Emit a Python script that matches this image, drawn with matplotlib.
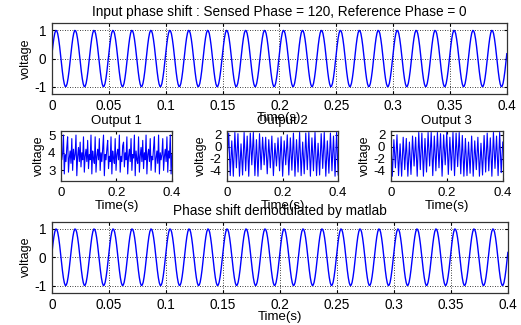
import numpy as np
import matplotlib.pyplot as plt

# one period (1/60 s) of the 60 Hz input, 20 samples
period_values = [0.17, 0.47, 0.72, 0.90, 0.99, 0.98, 0.88, 0.69, 0.44, 0.14,
                 -0.17, -0.47, -0.72, -0.90, -0.99, -0.98, -0.88, -0.69, -0.44, -0.14]
n_periods = 24
t_end = 0.4

out1_values = [
    4.2, 3.6, 4.0, 5.0, 2.8, 3.9, 3.5, 4.3, 4.9, 2.9, 3.7, 4.1, 3.4, 4.8, 3.0, 4.2, 3.6, 3.9, 5.0, 2.7,
    3.8, 4.3, 3.5, 4.6, 3.2, 4.0, 3.6, 4.9, 2.9, 3.8, 4.2, 3.5, 4.7, 3.1, 3.9, 3.6, 5.0, 2.8, 4.1, 3.7,
    3.4, 4.9, 2.9, 3.8, 4.2, 3.6, 4.8, 3.0, 4.0, 3.5, 4.3, 5.0, 2.7, 3.9, 3.6, 4.2, 4.7, 3.1, 3.8, 3.5,
    4.9, 2.8, 4.1, 3.7, 3.4, 4.8, 3.0, 3.9, 4.2, 3.6, 5.0, 2.9, 3.8, 3.5, 4.4, 4.6, 3.2, 4.0, 3.6, 4.9,
    2.8, 3.8, 4.2, 3.5, 4.8, 3.0, 3.9, 3.7, 5.0, 2.7, 4.1, 3.6, 3.4, 4.9, 2.9, 3.8, 4.3, 3.5, 4.7, 3.1,
    4.0, 3.6, 5.0, 2.8, 3.9, 4.2, 3.5, 4.8, 3.0, 3.8, 3.6, 4.3, 4.9, 2.9, 3.7, 4.1, 3.4, 5.0, 2.8, 4.0,
    3.6, 3.9, 4.8, 3.0, 3.8, 4.2, 3.5, 4.9, 2.9, 4.1, 3.7, 5.0, 2.8, 3.9,
]
out2_values = [
    -2.0, 2.3, -4.8, 1.0, -4.9, 2.4, -3.5, 2.2, -4.9, 0.5, -4.7, 2.4, -4.0, 1.8, -4.9, 2.3, -3.0, 2.4,
    -4.8, 1.2, -4.9, 2.2, -3.8, 1.6, -3.0, 1.6, -4.5, 1.2, -3.5, 1.8, -4.8, 0.6, -3.2, 1.5, -4.0, 1.7,
    -4.9, 1.0, -3.0, 2.0, -4.7, 1.5, -3.9, 2.3, -4.9, 1.2, -4.2, 2.4, -4.8, 0.8, -4.5, 2.3, -3.8, 2.4,
    -4.9, 1.5, -4.0, 2.4, -4.8, 0.6, -4.7, 2.2, -3.6, 2.4, -4.9, 1.0, -4.4, 2.3, -4.0, 1.8, -4.9, 2.4, -4.7,
]
out3_values = [
    1.8, -4.9, 1.2, -3.5, 2.0, -4.8, 0.5, -4.9, 1.6, -3.8, 1.4, -4.9, 0.8, -4.6, 1.8, -3.2, 1.6, -4.9,
    2.4, -3.8, 2.3, -4.9, 1.4, -4.2, 2.4, -3.2, 2.4, -4.8, 1.8, -4.0, 2.4, -3.5, 2.2, -4.9, 2.0, -3.0,
    2.4, -4.6, 1.6, -3.9, 2.4, -4.8, 2.3, -3.3, 2.4, -4.5, 1.9, -4.9, 1.4, -4.8, 0.8, -4.4, 1.8, -4.9,
    1.0, -3.8, 1.6, -4.9, 0.6, -4.7, 1.9, -4.2, 2.3, -4.0, 1.5, -4.9, 2.4, -3.6, 1.8, -4.8, 2.4, -4.3, 0.8,
]

wide_xticks = [0, 0.05, 0.1, 0.15, 0.2, 0.25, 0.3, 0.35, 0.4]
wide_xticklabels = ["0", "0.05", "0.1", "0.15", "0.2", "0.25", "0.3", "0.35", "0.4"]
small_xticks = [0, 0.2, 0.4]
small_xticklabels = ["0", "0.2", "0.4"]

plt.rcParams["font.family"] = ["Liberation Sans", "DejaVu Sans"]
plt.rcParams["font.size"] = 9

wave = np.array(period_values * n_periods + [period_values[0]])
t_wave = np.linspace(0, t_end, len(wave))


def style_axes(ax, size):
    ax.tick_params(direction="in", length=2, top=True, right=True, pad=4, labelsize=size)
    for s in ax.spines.values():
        s.set_linewidth(0.9)
        s.set_color("#333333")


def wide_panel(ax, title):
    ax.plot(t_wave, wave, color="#0000ff", lw=1)
    ax.set_xlim(0, t_end)
    ax.set_ylim(-1.25, 1.25)
    ax.set_xticks(wide_xticks, wide_xticklabels)
    ax.set_yticks([-1, 0, 1], ["-1", "0", "1"])
    ax.grid(True, color="black", linestyle=(0, (1, 2)), lw=0.6)
    ax.set_title(title, fontsize=9.8, pad=5)
    ax.set_ylabel("voltage", labelpad=2, fontsize=9)
    ax.set_xlabel("Time(s)", labelpad=-1, fontsize=9.5)
    style_axes(ax, 9.8)


def small_panel(ax, values, title, ylim, yticks):
    tt = np.linspace(0, t_end, len(values))
    ax.plot(tt, values, color="#0000ff", lw=0.8)
    ax.set_xlim(0, t_end)
    ax.set_ylim(*ylim)
    ax.set_xticks(small_xticks, small_xticklabels)
    ax.set_yticks(yticks, [str(v) for v in yticks])
    ax.set_title(title, fontsize=9.5, pad=5)
    ax.set_ylabel("voltage", labelpad=2)
    ax.set_xlabel("Time(s)", labelpad=1, fontsize=9.5)
    style_axes(ax, 9.5)


fig = plt.figure(figsize=(5.21, 3.25), dpi=100)

ax_top = fig.add_axes([0.0998, 0.711, 0.873, 0.218])
wide_panel(ax_top, "Input phase shift : Sensed Phase = 120, Reference Phase = 0")

ax1 = fig.add_axes([0.117, 0.443, 0.213, 0.155])
small_panel(ax1, out1_values, "Output 1", (2.4, 5.25), [3, 4, 5])
ax2 = fig.add_axes([0.436, 0.443, 0.213, 0.155])
small_panel(ax2, out2_values, "Output 2", (-5.7, 2.7), [-4, -2, 0, 2])
ax3 = fig.add_axes([0.750, 0.443, 0.215, 0.155])
small_panel(ax3, out3_values, "Output 3", (-5.7, 2.7), [-4, -2, 0, 2])

ax_bot = fig.add_axes([0.0998, 0.099, 0.875, 0.219])
wide_panel(ax_bot, "Phase shift demodulated by matlab")

fig.savefig("out.png", dpi=100, facecolor="white")
